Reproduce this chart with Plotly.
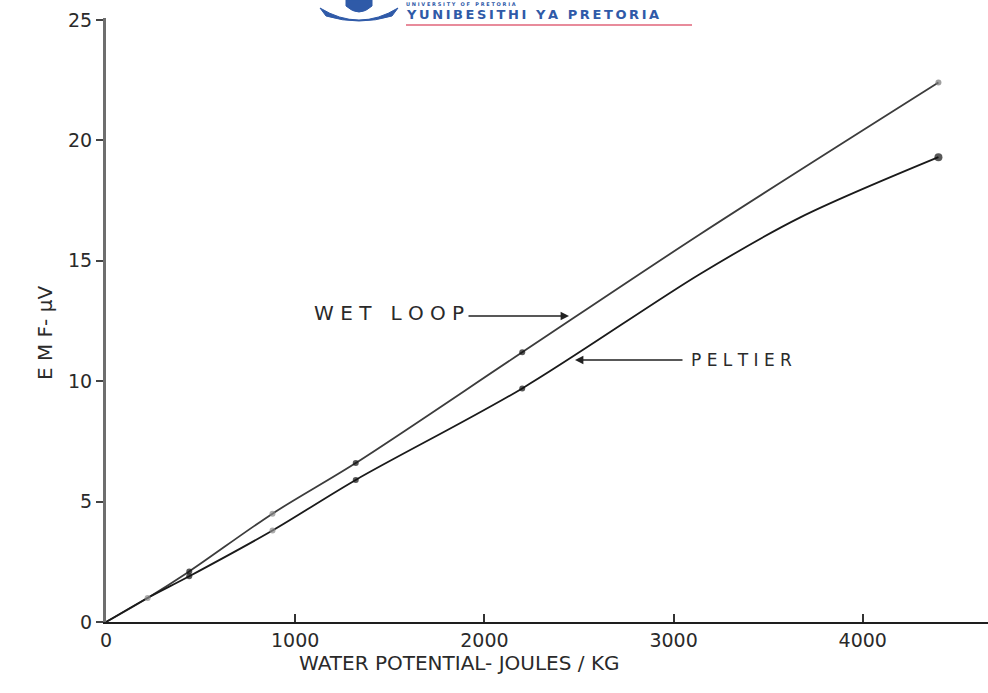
import plotly.graph_objects as go

water_potential = [220, 440, 880, 1320, 2200, 4400]          # J/kg
wet_loop_emf = [1.0, 2.1, 4.5, 6.6, 11.2, 22.4]               # µV
peltier_emf = [1.0, 1.9, 3.8, 5.9, 9.7, 19.3]                 # µV

# ---- hand-drawn curves ----
wet_curve_x = [0, 220, 440, 880, 1320, 2200, 3140, 4400]
wet_curve_y = [0, 1.0, 2.1, 4.5, 6.6, 11.2, 16.1, 22.4]
pel_curve_x = [0, 220, 440, 880, 1320, 2200, 3140, 3670, 4400]
pel_curve_y = [0, 1.0, 1.9, 3.8, 5.9, 9.7, 14.45, 16.8, 19.3]

x_ticks = [0, 1000, 2000, 3000, 4000]
x_tick_labels = ["0", "1000", "2000", "3000", "4000"]
y_ticks = [0, 5, 10, 15, 20, 25]
y_tick_labels = ["0", "5", "10", "15", "20", "25"]

# ---- styles ----
wet_marker_colors = ["#8a8a8a", "#111", "#8a8a8a", "#111", "#111", "#777"]
pel_marker_colors = ["rgba(0,0,0,0)", "#111", "#8a8a8a", "#111", "#111", "#111"]
wet_sizes = [6, 6, 6, 6, 6, 6]
pel_sizes = [0, 6, 6, 6, 6, 8]
FONT = "DejaVu Sans"
TXT = "#2a2a2a"
BLUE = "#2f5aa8"
TH = "\u2009"

L, T, W, H = 106, 18, 882, 604


def px(xp):
    return (xp - L) / W


def py(yp):
    return (T + H - yp) / H


def spaced(s, gap):
    return gap.join(list(s))


fig = go.Figure()
fig.add_trace(go.Scatter(
    x=wet_curve_x, y=wet_curve_y, mode="lines",
    line=dict(color="#3c3c3c", width=1.8, shape="spline", smoothing=0.9),
    showlegend=False, hoverinfo="skip"))
fig.add_trace(go.Scatter(
    x=pel_curve_x, y=pel_curve_y, mode="lines",
    line=dict(color="#1a1a1a", width=1.8, shape="spline", smoothing=0.9),
    showlegend=False, hoverinfo="skip"))
fig.add_trace(go.Scatter(
    x=water_potential, y=wet_loop_emf, mode="markers",
    marker=dict(color=wet_marker_colors, size=wet_sizes, line=dict(width=0)),
    showlegend=False, name="WET LOOP"))
fig.add_trace(go.Scatter(
    x=water_potential, y=peltier_emf, mode="markers",
    marker=dict(color=pel_marker_colors, size=pel_sizes, line=dict(width=0)),
    showlegend=False, name="PELTIER"))

fig.update_layout(
    width=988, height=693,
    margin=dict(l=L, r=0, t=T, b=693 - T - H),
    paper_bgcolor="white", plot_bgcolor="white",
    font=dict(family=FONT, color=TXT),
    xaxis=dict(range=[0, 4662], tickvals=x_ticks, ticktext=x_tick_labels,
               showgrid=False, zeroline=False, showline=True,
               linecolor="#1e1e1e", linewidth=2,
               ticks="inside", ticklen=8, tickwidth=1.5, tickcolor="#333",
               tickfont=dict(size=19, color=TXT, family=FONT)),
    yaxis=dict(range=[0, 25.08], tickvals=y_ticks, ticktext=y_tick_labels,
               showgrid=False, zeroline=False, showline=True,
               linecolor="#6e6e6e", linewidth=3,
               ticks="outside", ticklen=7, tickwidth=1.5, tickcolor="#444",
               tickfont=dict(size=19, color=TXT, family=FONT)),
    annotations=[
        dict(text="WATER POTENTIAL- JOULES / KG", xref="paper", yref="paper",
             x=px(459), y=py(677), showarrow=False,
             font=dict(size=20, color=TXT, family=FONT)),
        dict(text="E M F- μV", xref="paper", yref="paper",
             x=px(31), y=py(333), textangle=-90,
             showarrow=False, font=dict(size=20, color=TXT, family=FONT)),
        # WET LOOP label + arrow
        dict(text="W E T   L O O P", xref="paper", yref="paper",
             x=px(466), y=py(313), xanchor="right",
             showarrow=False, font=dict(size=20, color=TXT, family=FONT)),
        dict(text="", xref="paper", yref="paper",
             x=px(569), y=py(316), ax=-(569 - 467), ay=0, showarrow=True,
             arrowhead=2, arrowsize=1.2, arrowwidth=1.4, arrowcolor="#222"),
        # PELTIER label + arrow
        dict(text="P E L T I E R", xref="paper", yref="paper",
             x=px(689), y=py(360), xanchor="left",
             showarrow=False, font=dict(size=17, color=TXT, family=FONT)),
        dict(text="", xref="paper", yref="paper",
             x=px(575), y=py(360), ax=(684 - 575), ay=0, showarrow=True,
             arrowhead=2, arrowsize=1.2, arrowwidth=1.4, arrowcolor="#222"),
        # watermark of the scan
        dict(text="<b>" + spaced("YUNIBESITHI YA PRETORIA", TH) + "</b>",
             xref="paper", yref="paper", x=px(405), y=py(23), xanchor="left",
             yanchor="bottom", borderpad=0, showarrow=False,
             font=dict(size=13, color=BLUE, family=FONT)),
        dict(text="<b>" + spaced("UNIVERSITY OF PRETORIA", " ") + "</b>",
             xref="paper", yref="paper", x=px(405), y=py(0), xanchor="left",
             yanchor="top", borderpad=0, showarrow=False,
             font=dict(size=5, color=BLUE, family=FONT)),
    ],
    shapes=[
        dict(type="line", xref="paper", yref="paper",
             x0=px(406), x1=px(692), y0=py(25), y1=py(25),
             line=dict(color="#e0647a", width=1.5)),
        dict(type="path", xref="paper", yref="paper", fillcolor=BLUE,
             line=dict(color=BLUE, width=1),
             path="M {a},{b} Q {c},{d} {e},{f} L {g},{h} Q {c},{i} {j},{h} Z".format(
                 a=px(320), b=py(8), c=px(359), d=py(32), e=px(398), f=py(8),
                 g=px(392), h=py(16), i=py(26), j=px(326))),
        dict(type="path", xref="paper", yref="paper", fillcolor=BLUE,
             line=dict(color=BLUE, width=1),
             path="M {a},{b} L {a},{c} Q {d},{e} {f},{c} L {f},{b} Z".format(
                 a=px(346), b=py(0), c=py(6), d=px(359), e=py(18), f=px(372))),
    ],
)

fig.write_html("out.html")
